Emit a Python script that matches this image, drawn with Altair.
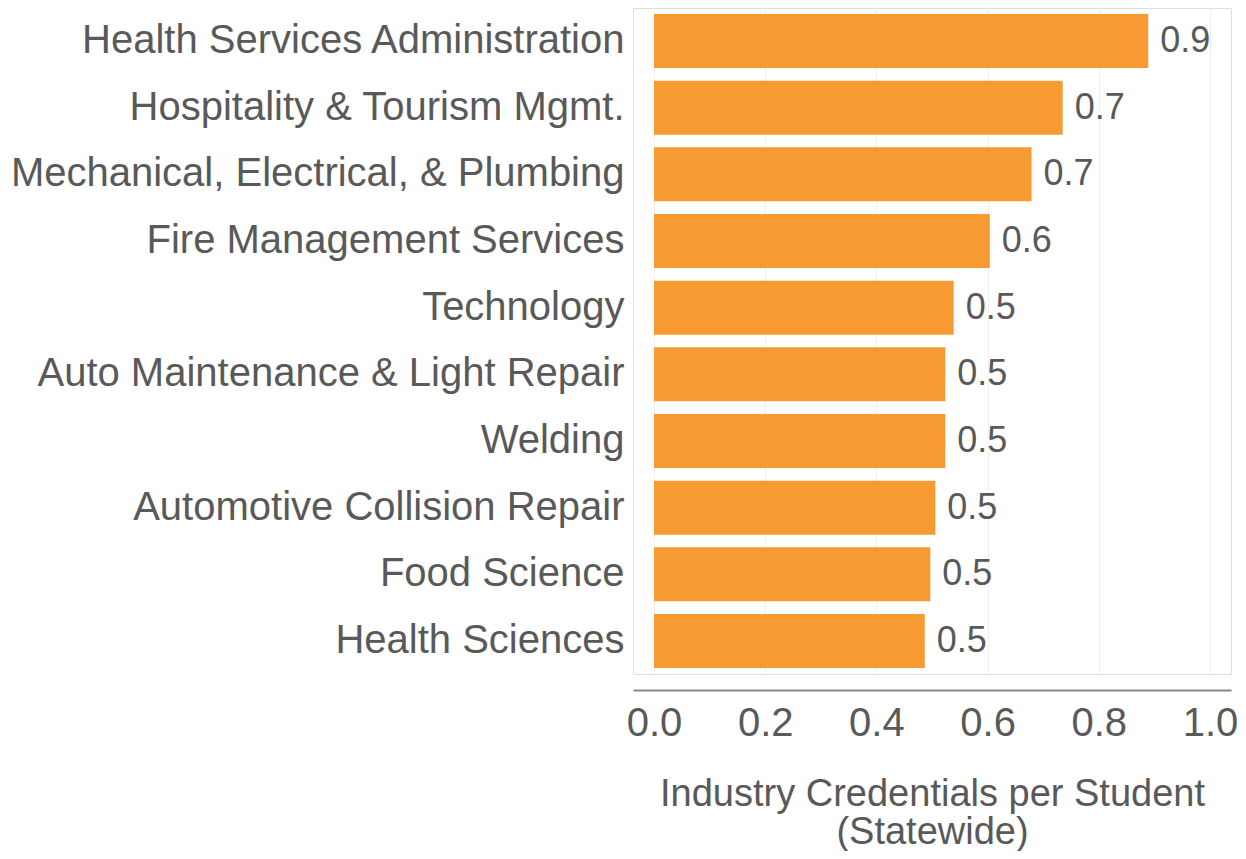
import altair as alt
import pandas as pd

categories = [
    "Health Services Administration",
    "Hospitality & Tourism Mgmt.",
    "Mechanical, Electrical, & Plumbing",
    "Fire Management Services",
    "Technology",
    "Auto Maintenance & Light Repair",
    "Welding",
    "Automotive Collision Repair",
    "Food Science",
    "Health Sciences",
]
values = [0.889, 0.735, 0.679, 0.604, 0.539, 0.524, 0.524, 0.506, 0.497, 0.487]

df = pd.DataFrame({"program": categories, "value": values})

FONT = "Liberation Sans"
TEXT = "#595959"
ORANGE = "#F79A32"

x_enc = alt.X(
    "value:Q",
    scale=alt.Scale(domain=[0, 1], nice=False, zero=True, padding=21),
    axis=alt.Axis(
        title=["Industry Credentials per Student", "(Statewide)"],
        values=[0, 0.2, 0.4, 0.6, 0.8, 1.0],
        format=".1f",
        ticks=False,
        domain=True,
        domainColor="#8a8a8a",
        domainWidth=2,
        grid=True,
        gridColor="#f0f0f0",
        gridWidth=1,
        labelFont=FONT,
        labelFontSize=40,
        labelColor=TEXT,
        labelPadding=13,
        titleFont=FONT,
        titleFontSize=38,
        titleFontWeight="normal",
        titleColor=TEXT,
        titlePadding=32,
        titleLineHeight=38,
        offset=16,
    ),
)

y_enc = alt.Y(
    "program:N",
    sort=categories,
    scale=alt.Scale(paddingInner=0.19, paddingOuter=0.09),
    axis=alt.Axis(
        title=None,
        ticks=False,
        domain=False,
        grid=False,
        labelFont=FONT,
        labelFontSize=40,
        labelColor=TEXT,
        labelPadding=9,
        labelLimit=800,
    ),
)

bars = alt.Chart(df).mark_bar(color=ORANGE).encode(x=x_enc, y=y_enc)

labels = alt.Chart(df).mark_text(
    align="left", baseline="middle", dx=12, font=FONT, fontSize=36, color=TEXT
).encode(
    x=alt.X("value:Q"),
    y=alt.Y("program:N", sort=categories),
    text=alt.Text("value:Q", format=".1f"),
)

chart = (
    alt.layer(bars, labels)
    .properties(
        width=598,
        height=666,
        autosize=alt.AutoSizeParams(type="none"),
        padding={"left": 625, "top": 0, "right": 7, "bottom": 177},
    )
    .configure_view(stroke=None)
    .configure(background="white")
)

chart.save("out.html", embed_options={"renderer": "svg", "actions": False})
